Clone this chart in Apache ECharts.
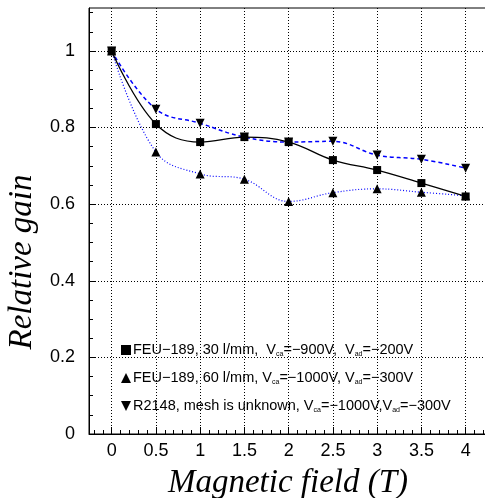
<!DOCTYPE html>
<html>
<head>
<meta charset="utf-8">
<script src="https://cdn.jsdelivr.net/npm/echarts@6/dist/echarts.min.js"></script>
<style>html,body{margin:0;padding:0;background:#fff}#c{width:485px;height:498px}</style>
</head>
<body>
<div id="c"></div>
<script>
// ---- data ----
const fieldT = [0, 0.5, 1, 1.5, 2, 2.5, 3, 3.5, 4];
const gainFeu30 = [1.0, 0.809, 0.762, 0.775, 0.762, 0.715, 0.689, 0.655, 0.620];
const gainFeu60 = [1.0, 0.736, 0.679, 0.665, 0.607, 0.630, 0.640, 0.631, 0.622];
const gainR2148 = [1.0, 0.848, 0.811, 0.775, 0.762, 0.764, 0.728, 0.717, 0.694];
const seriesNames = [
  'FEU−189, 30 l/mm,  V{s|ca}=−900V,  V{s|ad}=−200V',
  'FEU−189, 60 l/mm, V{s|ca}=−1000V, V{s|ad}=−300V',
  'R2148, mesh is unknown, V{s|ca}=−1000V,V{s|ad}=−300V'
];
const xMajorTicks = [0, 0.5, 1, 1.5, 2, 2.5, 3, 3.5, 4];
const xMinorTicks = [-0.2,-0.1,0.1,0.2,0.3,0.4,0.6,0.7,0.8,0.9,1.1,1.2,1.3,1.4,1.6,1.7,1.8,1.9,2.1,2.2,2.3,2.4,2.6,2.7,2.8,2.9,3.1,3.2,3.3,3.4,3.6,3.7,3.8,3.9,4.1,4.2,4.3];
const yMajorTicks = [0, 0.2, 0.4, 0.6, 0.8, 1];
const yMinorTicks = [0.05,0.1,0.15,0.25,0.3,0.35,0.45,0.5,0.55,0.65,0.7,0.75,0.85,0.9,0.95,1.05,1.1];
const xTitle = 'Magnetic field (T)';
const yTitle = 'Relative gain';

const X_MIN = -0.256, X_MAX = 4.343, Y_MIN = 0, Y_MAX = 1.112;
const pairs = v => fieldT.map((x, i) => [x, v[i]]);
const downTri = 'path://M0,0L10,0L5,10Z';
const sans = 'Liberation Sans';

const chart = echarts.init(document.getElementById('c'), null, {renderer: 'canvas'});
chart.setOption({
  animation: false,
  backgroundColor: '#fff',
  grid: {left: 89, top: 8, width: 407, height: 426, show: true, borderColor: '#000', borderWidth: 1, containLabel: false, outerBoundsMode: 'none'},
  xAxis: [
    {type: 'value', min: X_MIN, max: X_MAX, position: 'bottom',
     axisLine: {show: true, onZero: false, lineStyle: {color: '#000', width: 1}},
     axisTick: {show: true, inside: true, length: 7, customValues: xMajorTicks, lineStyle: {color: '#000'}},
     axisLabel: {show: true, customValues: xMajorTicks, margin: 8, color: '#000', fontFamily: sans, fontSize: 18},
     splitLine: {show: true, lineStyle: {color: '#000', type: [1, 2], width: 1}}},
    {type: 'value', min: X_MIN, max: X_MAX, position: 'bottom',
     axisLine: {show: false, onZero: false},
     axisTick: {show: true, inside: true, length: 4, customValues: xMinorTicks, lineStyle: {color: '#000'}},
     axisLabel: {show: false}, splitLine: {show: false}}
  ],
  yAxis: [
    {type: 'value', min: Y_MIN, max: Y_MAX, position: 'left',
     axisLine: {show: true, onZero: false, lineStyle: {color: '#000', width: 1}},
     axisTick: {show: true, inside: true, length: 7, customValues: yMajorTicks, lineStyle: {color: '#000'}},
     axisLabel: {show: true, customValues: yMajorTicks, margin: 14, color: '#000', fontFamily: sans, fontSize: 18},
     splitLine: {show: true, lineStyle: {color: '#000', type: [1, 2], width: 1}}},
    {type: 'value', min: Y_MIN, max: Y_MAX, position: 'left',
     axisLine: {show: false, onZero: false},
     axisTick: {show: true, inside: true, length: 4, customValues: yMinorTicks, lineStyle: {color: '#000'}},
     axisLabel: {show: false}, splitLine: {show: false}}
  ],
  legend: {
    orient: 'vertical', left: 116, top: 337, itemWidth: 10, itemHeight: 10, itemGap: 12,
    data: [
      {name: seriesNames[0], icon: 'rect'},
      {name: seriesNames[1], icon: 'triangle'},
      {name: seriesNames[2], icon: downTri}
    ],
    textStyle: {color: '#000', fontFamily: sans, fontSize: 14.5, lineHeight: 16, padding: [0,0,0,-3],
      rich: {s: {fontSize: 7, fontFamily: sans, color: '#000', verticalAlign: 'bottom', lineHeight: 16}}}
  },
  graphic: [
    {type: 'text', x: 288, y: 483, style: {text: xTitle, font: 'italic 33px "Liberation Serif"', fill: '#000', textAlign: 'center', textVerticalAlign: 'middle'}},
    {type: 'text', x: 22, y: 262, rotation: Math.PI / 2, style: {text: yTitle, font: 'italic 33px "Liberation Serif"', fill: '#000', textAlign: 'center', textVerticalAlign: 'middle'}}
  ],
  series: [
    {name: seriesNames[1], type: 'line', data: pairs(gainFeu60), smooth: 0.4, z: 2,
     symbol: 'triangle', symbolSize: 9, showAllSymbol: true,
     itemStyle: {color: '#000'}, lineStyle: {color: '#0000ff', width: 1.2, type: [1, 2]}},
    {name: seriesNames[2], type: 'line', data: pairs(gainR2148), smooth: 0.4, z: 3,
     symbol: downTri, symbolSize: 9, showAllSymbol: true,
     itemStyle: {color: '#000'}, lineStyle: {color: '#0000ff', width: 1.5, type: [4, 3]}},
    {name: seriesNames[0], type: 'line', data: pairs(gainFeu30), smooth: 0.4, z: 4,
     symbol: 'rect', symbolSize: 8, showAllSymbol: true,
     itemStyle: {color: '#000'}, lineStyle: {color: '#000', width: 1.3, type: 'solid'}}
  ]
});
</script>
</body>
</html>
